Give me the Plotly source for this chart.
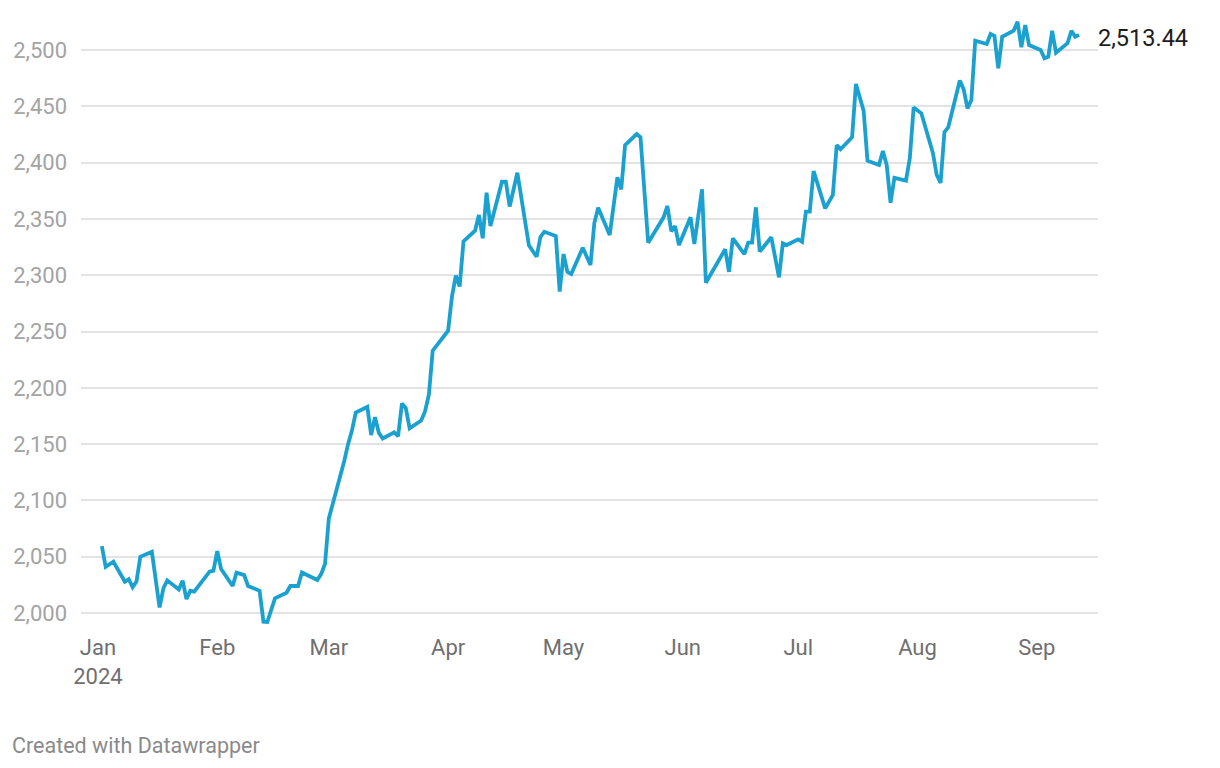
import plotly.graph_objects as go

dates = [
    "2024-01-02", "2024-01-03", "2024-01-05", "2024-01-08", "2024-01-09", "2024-01-10",
    "2024-01-11", "2024-01-12", "2024-01-15", "2024-01-17", "2024-01-18", "2024-01-19",
    "2024-01-22", "2024-01-23", "2024-01-24", "2024-01-25", "2024-01-26", "2024-01-30",
    "2024-01-31", "2024-02-01", "2024-02-02", "2024-02-05", "2024-02-06", "2024-02-08",
    "2024-02-09", "2024-02-12", "2024-02-13", "2024-02-14", "2024-02-16", "2024-02-19",
    "2024-02-20", "2024-02-22", "2024-02-23", "2024-02-27", "2024-02-28", "2024-02-29",
    "2024-03-01", "2024-03-04", "2024-03-05", "2024-03-06", "2024-03-07", "2024-03-08",
    "2024-03-11", "2024-03-12", "2024-03-13", "2024-03-14", "2024-03-15", "2024-03-18",
    "2024-03-19", "2024-03-20", "2024-03-21", "2024-03-22", "2024-03-25", "2024-03-26",
    "2024-03-27", "2024-03-28", "2024-04-01", "2024-04-02", "2024-04-03", "2024-04-04",
    "2024-04-05", "2024-04-08", "2024-04-09", "2024-04-10", "2024-04-11", "2024-04-12",
    "2024-04-15", "2024-04-16", "2024-04-17", "2024-04-19", "2024-04-22", "2024-04-24",
    "2024-04-25", "2024-04-26", "2024-04-29", "2024-04-30", "2024-05-01", "2024-05-02",
    "2024-05-03", "2024-05-06", "2024-05-08", "2024-05-09", "2024-05-10", "2024-05-13",
    "2024-05-15", "2024-05-16", "2024-05-17", "2024-05-20", "2024-05-21", "2024-05-23",
    "2024-05-27", "2024-05-28", "2024-05-29", "2024-05-30", "2024-05-31", "2024-06-03",
    "2024-06-04", "2024-06-06", "2024-06-07", "2024-06-12", "2024-06-13", "2024-06-14",
    "2024-06-17", "2024-06-18", "2024-06-19", "2024-06-20", "2024-06-21", "2024-06-24",
    "2024-06-26", "2024-06-27", "2024-06-28", "2024-07-01", "2024-07-02", "2024-07-03",
    "2024-07-04", "2024-07-05", "2024-07-08", "2024-07-10", "2024-07-11", "2024-07-12",
    "2024-07-15", "2024-07-16", "2024-07-18", "2024-07-19", "2024-07-22", "2024-07-23",
    "2024-07-24", "2024-07-25", "2024-07-26", "2024-07-29", "2024-07-30", "2024-07-31",
    "2024-08-02", "2024-08-05", "2024-08-06", "2024-08-07", "2024-08-08", "2024-08-09",
    "2024-08-12", "2024-08-13", "2024-08-14", "2024-08-15", "2024-08-16", "2024-08-19",
    "2024-08-20", "2024-08-21", "2024-08-22", "2024-08-23", "2024-08-26", "2024-08-27",
    "2024-08-28", "2024-08-29", "2024-08-30", "2024-09-02", "2024-09-03", "2024-09-04",
    "2024-09-05", "2024-09-06", "2024-09-09", "2024-09-10", "2024-09-11", "2024-09-12",
]

prices = [
    2059.5, 2041.0, 2045.6, 2027.8, 2030.0, 2023.0,
    2028.0, 2050.0, 2054.5, 2005.0, 2022.0, 2029.0,
    2021.0, 2028.7, 2012.4, 2019.8, 2019.0, 2036.7,
    2037.6, 2055.0, 2039.0, 2024.0, 2035.8, 2033.7,
    2024.0, 2019.8, 1992.3, 1992.0, 2013.0, 2018.0,
    2024.0, 2024.0, 2036.0, 2029.3, 2034.6, 2043.5,
    2084.0, 2121.0, 2135.0, 2150.0, 2162.0, 2178.0,
    2183.0, 2158.0, 2174.0, 2160.0, 2155.0, 2160.5,
    2157.0, 2186.0, 2182.0, 2164.0, 2171.0, 2179.0,
    2194.0, 2233.0, 2250.7, 2281.0, 2299.6, 2290.0,
    2330.0, 2339.5, 2353.5, 2332.8, 2373.3, 2343.7,
    2383.0, 2383.0, 2361.0, 2391.0, 2326.5, 2316.4,
    2334.0, 2338.6, 2334.8, 2285.4, 2318.8, 2303.0,
    2301.0, 2324.4, 2309.0, 2346.0, 2360.0, 2335.7,
    2387.0, 2376.3, 2415.6, 2425.4, 2422.5, 2328.9,
    2351.4, 2361.5, 2339.0, 2343.7, 2326.8, 2351.4,
    2327.7, 2376.3, 2293.3, 2323.0, 2303.0, 2332.8,
    2318.8, 2328.9, 2328.9, 2360.3, 2320.9, 2333.7,
    2298.1, 2328.3, 2326.8, 2331.8, 2329.7, 2356.4,
    2356.4, 2392.5, 2359.4, 2371.2, 2415.6, 2411.8,
    2422.5, 2469.8, 2446.0, 2401.7, 2397.9, 2410.3,
    2397.9, 2364.4, 2386.5, 2384.0, 2403.8, 2449.0,
    2443.8, 2408.5, 2389.0, 2382.0, 2427.0, 2431.5,
    2473.0, 2465.0, 2448.2, 2455.6, 2508.3, 2505.3,
    2514.2, 2512.4, 2483.7, 2511.8, 2517.1, 2525.1,
    2502.4, 2522.2, 2504.4, 2500.0, 2492.6, 2494.0,
    2517.1, 2497.6, 2506.0, 2517.1, 2511.8, 2513.44,
]

month_ticks = ["2024-01-01", "2024-02-01", "2024-03-01", "2024-04-01", "2024-05-01",
               "2024-06-01", "2024-07-01", "2024-08-01", "2024-09-01"]
month_labels = ["Jan<br>2024", "Feb", "Mar", "Apr", "May", "Jun", "Jul", "Aug", "Sep"]
y_ticks = [2000, 2050, 2100, 2150, 2200, 2250, 2300, 2350, 2400, 2450, 2500]
y_labels = ["2,000", "2,050", "2,100", "2,150", "2,200", "2,250", "2,300", "2,350",
            "2,400", "2,450", "2,500"]
last_label = "2,513.44"

LINE = "#1aa1cf"

fig = go.Figure()
fig.add_trace(go.Scatter(
    x=dates, y=prices, mode="lines",
    line=dict(color=LINE, width=3.8, shape="linear"),
    hoverinfo="skip", showlegend=False,
))

fig.add_annotation(
    x=dates[-1], y=prices[-1], text=last_label, showarrow=False,
    xanchor="left", yanchor="middle", xshift=17, yshift=-3,
    font=dict(family="Roboto", size=23.5, color="#1d1d1d"),
)

fig.add_annotation(
    xref="paper", yref="paper", x=0, y=0, xanchor="left", yanchor="middle",
    text="Created with Datawrapper", showarrow=False,
    xshift=-71, yshift=-109,
    font=dict(family="Roboto", size=21.5, color="#8a8a8a"),
)

fig.update_layout(
    width=1220, height=768,
    margin=dict(l=81, r=122, t=16, b=132),
    paper_bgcolor="white", plot_bgcolor="white",
    font=dict(family="Roboto"),
    xaxis=dict(
        type="date",
        range=["2023-12-27 14:00", "2024-09-16 22:00"],
        tickvals=month_ticks, ticktext=month_labels,
        showgrid=False, zeroline=False, showline=False,
        ticks="", ticklabelstandoff=-4,
        tickfont=dict(family="Roboto", size=22, color="#6f6f6f"),
        fixedrange=True,
    ),
    yaxis=dict(
        range=[1979.6, 2530.2],
        tickvals=y_ticks, ticktext=y_labels,
        showgrid=True, gridcolor="#e3e3e3", gridwidth=1.5,
        zeroline=False, showline=False, ticks="",
        ticklabelstandoff=13,
        tickfont=dict(family="Roboto", size=22, color="#a3a3a3"),
        fixedrange=True,
    ),
)

fig.write_html("out.html")
